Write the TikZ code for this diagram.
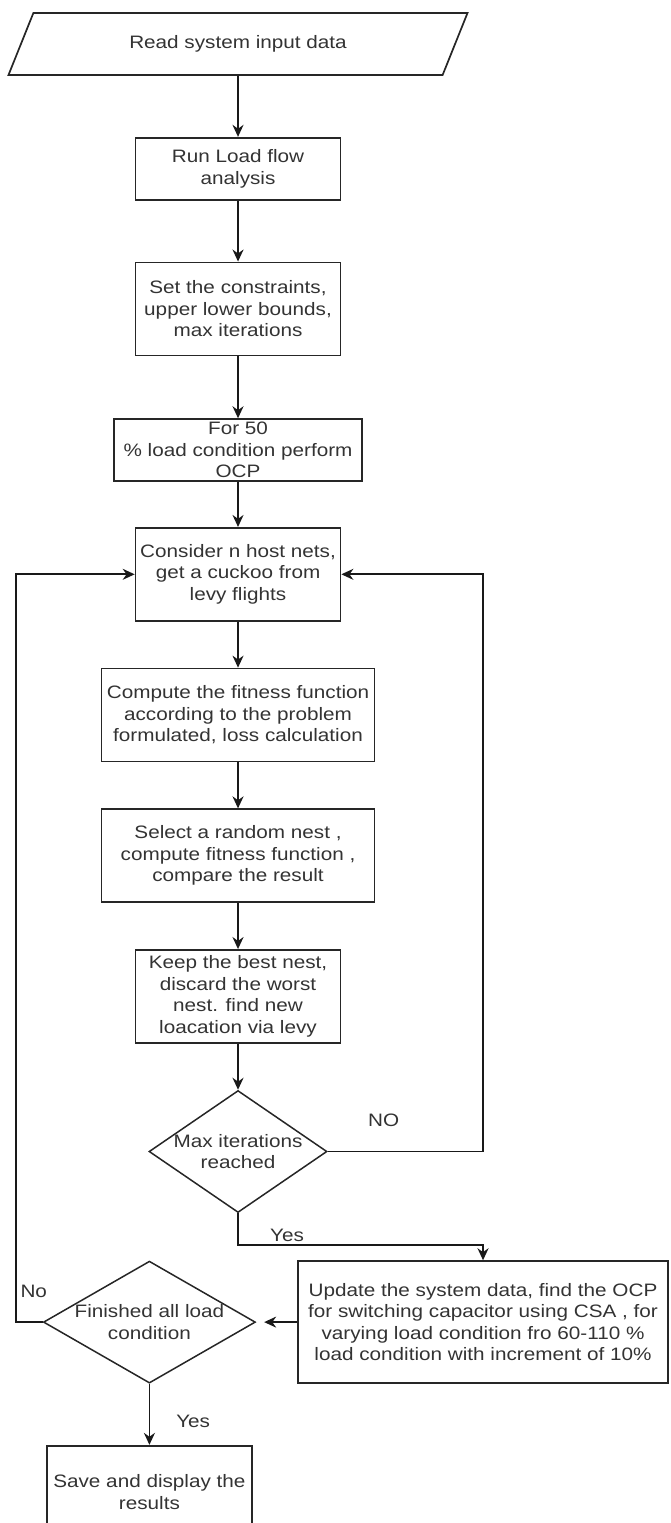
\documentclass[tikz,border=0pt]{standalone}
\usepackage{fontspec}
\setmainfont{Liberation Sans}[FakeStretch=1.15]
\usepackage{tikz}
\usetikzlibrary{arrows.meta, positioning, shapes.geometric}
\tikzset{
  block/.style = {rectangle, draw=black!85, line width=1.7pt, minimum width=205pt, minimum height=93pt, inner sep=0pt, align=center, text=black!80},
  decision/.style = {diamond, draw=black!85, line width=1.5pt, inner sep=-3pt, align=center, text=black!80},
  io/.style = {trapezium, trapezium left angle=34, trapezium right angle=146, trapezium stretches body, draw=black!85, line width=1.7pt, minimum width=459pt, minimum height=62pt, inner sep=0pt, text=black!80},
  arrow/.style = {-{Stealth[length=12pt, width=11pt]}, line width=1.7pt, draw=black!90},
  lbl/.style = {inner sep=0pt, text=black!80},
}

\begin{document}
\begin{tikzpicture}[every node/.style={font=\fontsize{18pt}{21.6pt}\selectfont}]
    \useasboundingbox (-238pt,44pt) rectangle (432pt,-1479pt);

    % Nodes
    \node (read) [io] {Read system input data};
    \node (run) [block, minimum height=62pt, below=61pt of read] {Run Load flow\\analysis};
    \node (bounds) [block, below=61pt of run] {Set the constraints,\\upper lower bounds,\\max iterations};
    \node (init) [block, minimum width=248pt, minimum height=62pt, below=62pt of bounds] {For 50\\\% load condition perform\\OCP};
    \node (nests) [block, below=45pt of init] {Consider n host nets,\\get a cuckoo from\\levy flights};
    \node (fitness) [block, minimum width=273pt, below=46pt of nests] {Compute the fitness function\\according to the problem\\formulated, loss calculation};
    \node (select) [block, minimum width=273pt, below=46pt of fitness] {Select a random nest ,\\compute fitness function ,\\compare the result};
    \node (keep) [block, below=46pt of select] {Keep the best nest,\\discard the worst\\nest. find new\\loacation via levy};
    \node (maxit) [decision, aspect=1.46, minimum width=178pt, minimum height=122pt, below=46pt of keep] {Max iterations\\reached};

    \node (update) [block, minimum width=370pt, minimum height=122pt, below=47pt of maxit, xshift=245pt] {Update the system data, find the OCP\\for switching capacitor using CSA , for\\varying load condition fro 60-110 \%\\load condition with increment of 10\%};
    \node (finished) [decision, aspect=1.74, minimum width=212pt, minimum height=122pt, left=41pt of update] {Finished all load\\condition};
    \node (save) [block, below=61pt of finished] {Save and display the\\results};

    % Arrows
    \draw [arrow] (read) -- (run);
    \draw [arrow] (run) -- (bounds);
    \draw [arrow] (bounds) -- (init);
    \draw [arrow] (init) -- (nests);
    \draw [arrow] (nests) -- (fitness);
    \draw [arrow] (fitness) -- (select);
    \draw [arrow] (select) -- (keep);
    \draw [arrow] (keep) -- (maxit);

    \draw [arrow] (maxit.east) -- node (no1) [lbl, above=24pt, pos=0.36] {NO} (maxit.east -| update.north) |- (nests.east);
    \draw [arrow] (maxit.south) -- ++(0,-32pt) -| node (yes1) [lbl, above=3pt, pos=0.1] {Yes} (update.north);
    \draw [arrow, shorten >=8pt] (update.west) -- (finished.east);
    \draw [arrow] (finished.west) -- ++(-27pt,0) node (no2) [lbl, above right=24pt and 4pt] {No} |- (nests.west);
    \draw [arrow] (finished.south) -- node (yes2) [lbl, right=26pt, pos=0.62] {Yes} (save.north);

\end{tikzpicture}
\end{document}
